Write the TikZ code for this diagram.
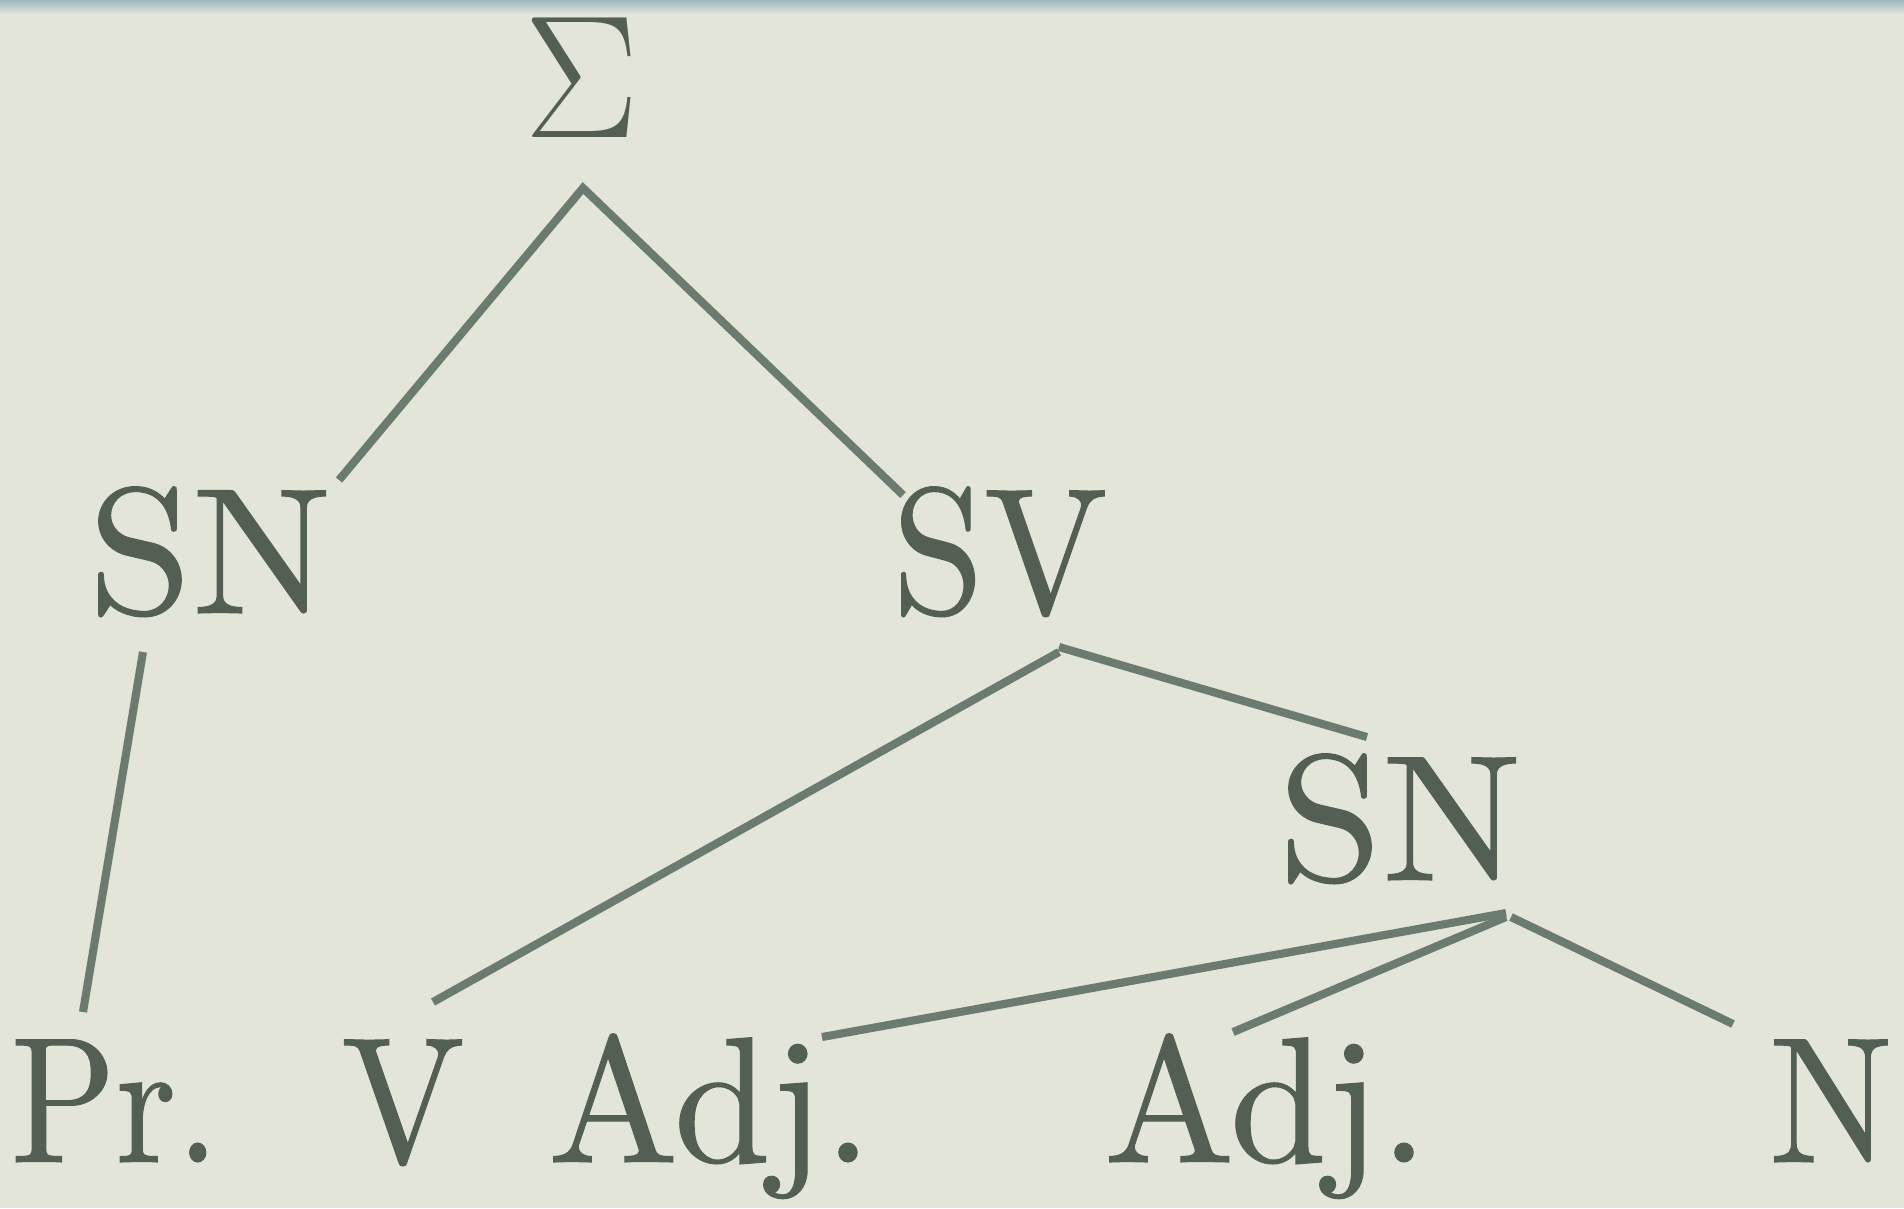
\documentclass[tikz,border=0pt]{standalone}
\usepackage{fontspec}
\usepackage{graphicx}
\newfontfamily\lblfont{lmroman10-regular}[Extension=.otf,FakeBold=0.6]
\usetikzlibrary{calc}
\definecolor{bgc}{HTML}{E2E5D7}
\definecolor{topc}{HTML}{9FB8C2}
\definecolor{txtc}{HTML}{535F53}
\definecolor{linec}{HTML}{6B7B70}
\newcommand\narrowtxt[2][0.92]{\scalebox{#1}[1]{#2}}
\begin{document}
\begin{tikzpicture}[x=0.01cm,y=-0.01cm,
  lbl/.style={anchor=base,inner sep=0pt,text=txtc,font=\lblfont\fontsize{51}{60}\selectfont},
  edge/.style={draw=linec,line width=2.3pt}]
\useasboundingbox (0,0) rectangle (1904,1208);
\fill[bgc] (0,0) rectangle (1904,1208);
\shade[top color=topc,bottom color=bgc] (0,0) rectangle (1904,14);
% nodes
\node[lbl] (sigma) at (582,137) {\scalebox{1.96}[2.0]{$\Sigma$}};
\node[lbl] (sn1) at (210,613) {\narrowtxt[1.04]{SN}};
\node[lbl] (sv) at (1000,613) {\narrowtxt{SV}};
\node[lbl] (sn2) at (1400,880) {\narrowtxt[1.04]{SN}};
\node[lbl] (pr) at (115,1162) {\narrowtxt[0.86]{Pr.}};
\node[lbl] (v) at (403,1162) {\narrowtxt{V}};
\node[lbl] (adj1) at (710,1162) {\narrowtxt[0.97]{Adj.}};
\node[lbl] (adj2) at (1266,1162) {\narrowtxt[0.97]{Adj.}};
\node[lbl] (n) at (1831,1162) {\narrowtxt{N}};
% connectors
\draw[edge] ($(sn1.base)+(129,-133)$) -- ($(sigma.base)+(1,51)$) -- ($(sv.base)+(-97,-118)$);
\draw[edge] ($(sn1.base)+(-67,39)$) -- ($(pr.base)+(-32,-150)$);
\draw[edge] ($(sv.base)+(59,39)$) -- ($(v.base)+(30,-160)$);
\draw[edge] ($(sv.base)+(59,34)$) -- ($(sn2.base)+(-33,-143)$);
\draw[edge] ($(sn2.base)+(106,33)$) -- ($(adj1.base)+(112,-125)$);
\draw[edge] ($(sn2.base)+(106,37)$) -- ($(adj2.base)+(-33,-130)$);
\draw[edge] ($(sn2.base)+(111,37)$) -- ($(n.base)+(-98,-138)$);
\end{tikzpicture}
\end{document}
